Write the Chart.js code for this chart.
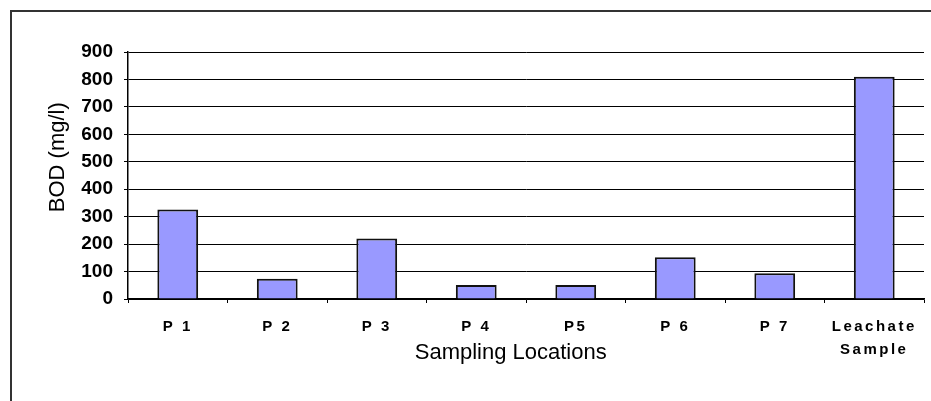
<!DOCTYPE html>
<html>
<head>
<meta charset="utf-8">
<script src="https://cdn.jsdelivr.net/npm/chart.js@4/dist/chart.umd.min.js"></script>
<style>
  body { margin: 0; background: #fff; overflow: hidden; }
  #wrap { position: relative; width: 931px; height: 401px; overflow: hidden; }
  #frame { position: absolute; left: 10px; top: 10px; width: 1000px; height: 1000px;
           border-left: 2px solid #333; border-top: 2px solid #333; }
  #c { position: absolute; left: 0; top: 0; }
</style>
</head>
<body>
<div id="wrap">
  <div id="frame"></div>
  <canvas id="c" width="931" height="401"></canvas>
</div>
<script>
// BOD by sampling location
var locations = ["P 1", "P 2", "P 3", "P 4", "P5", "P 6", "P 7", ["Leachate", "Sample"]];
var bod = [326, 74, 220, 51, 51, 152, 94, 810];

var font = "'Liberation Sans', Arial, sans-serif";

var ctx = document.getElementById("c");
var chart = new Chart(ctx, {
  type: 'bar',
  data: {
    labels: locations,
    datasets: [{
      label: "BOD (mg/l)",
      data: bod,
      backgroundColor: "#9999ff",
      borderColor: "#111",
      borderWidth: 2,
      categoryPercentage: 1,
      barPercentage: 0.41
    }]
  },
  options: {
    responsive: false,
    devicePixelRatio: 1,
    animation: false,
    layout: { padding: { top: 52, right: 7, left: 0, bottom: 0 } },
    plugins: { legend: { display: false }, tooltip: { enabled: false } },
    scales: {
      x: {
        offset: true,
        grid: { display: true, drawOnChartArea: false, drawTicks: true, tickLength: 4, color: "#000", offset: true },
        border: { display: true, color: "#000", width: 1.5 },
        ticks: {
          color: "#000", padding: 13, autoSkip: false, maxRotation: 0,
          font: { family: font, size: 15, weight: 'bold', lineHeight: 1.5 }
        },
        title: {
          display: true, text: "Sampling Locations     ", color: "#000",
          font: { family: font, size: 22, lineHeight: 1.2 },
          padding: { top: 0, bottom: 35 }
        },
        afterFit: function (scale) {
          if (!scale._spaced) {
            var orig = scale.drawLabels.bind(scale);
            scale.drawLabels = function (area) {
              var c = scale.ctx;
              c.save();
              c.letterSpacing = "2.5px";
              orig(area);
              c.restore();
            };
            scale._spaced = true;
          }
          scale.height = 102;
        }
      },
      y: {
        min: 0, max: 900,
        ticks: {
          stepSize: 100, color: "#000", padding: 11,
          font: { family: font, size: 19, weight: 'bold' }
        },
        grid: { color: "#000", lineWidth: 1, tickLength: 4 },
        border: { display: true, color: "#000", width: 1.5 },
        title: {
          display: true, text: "      BOD (mg/l)", color: "#000",
          font: { family: font, size: 22, lineHeight: 1.2 },
          padding: { top: 45, bottom: 0 }
        },
        afterFit: function (scale) { scale.width = 128; }
      }
    }
  }
});
</script>
</body>
</html>
